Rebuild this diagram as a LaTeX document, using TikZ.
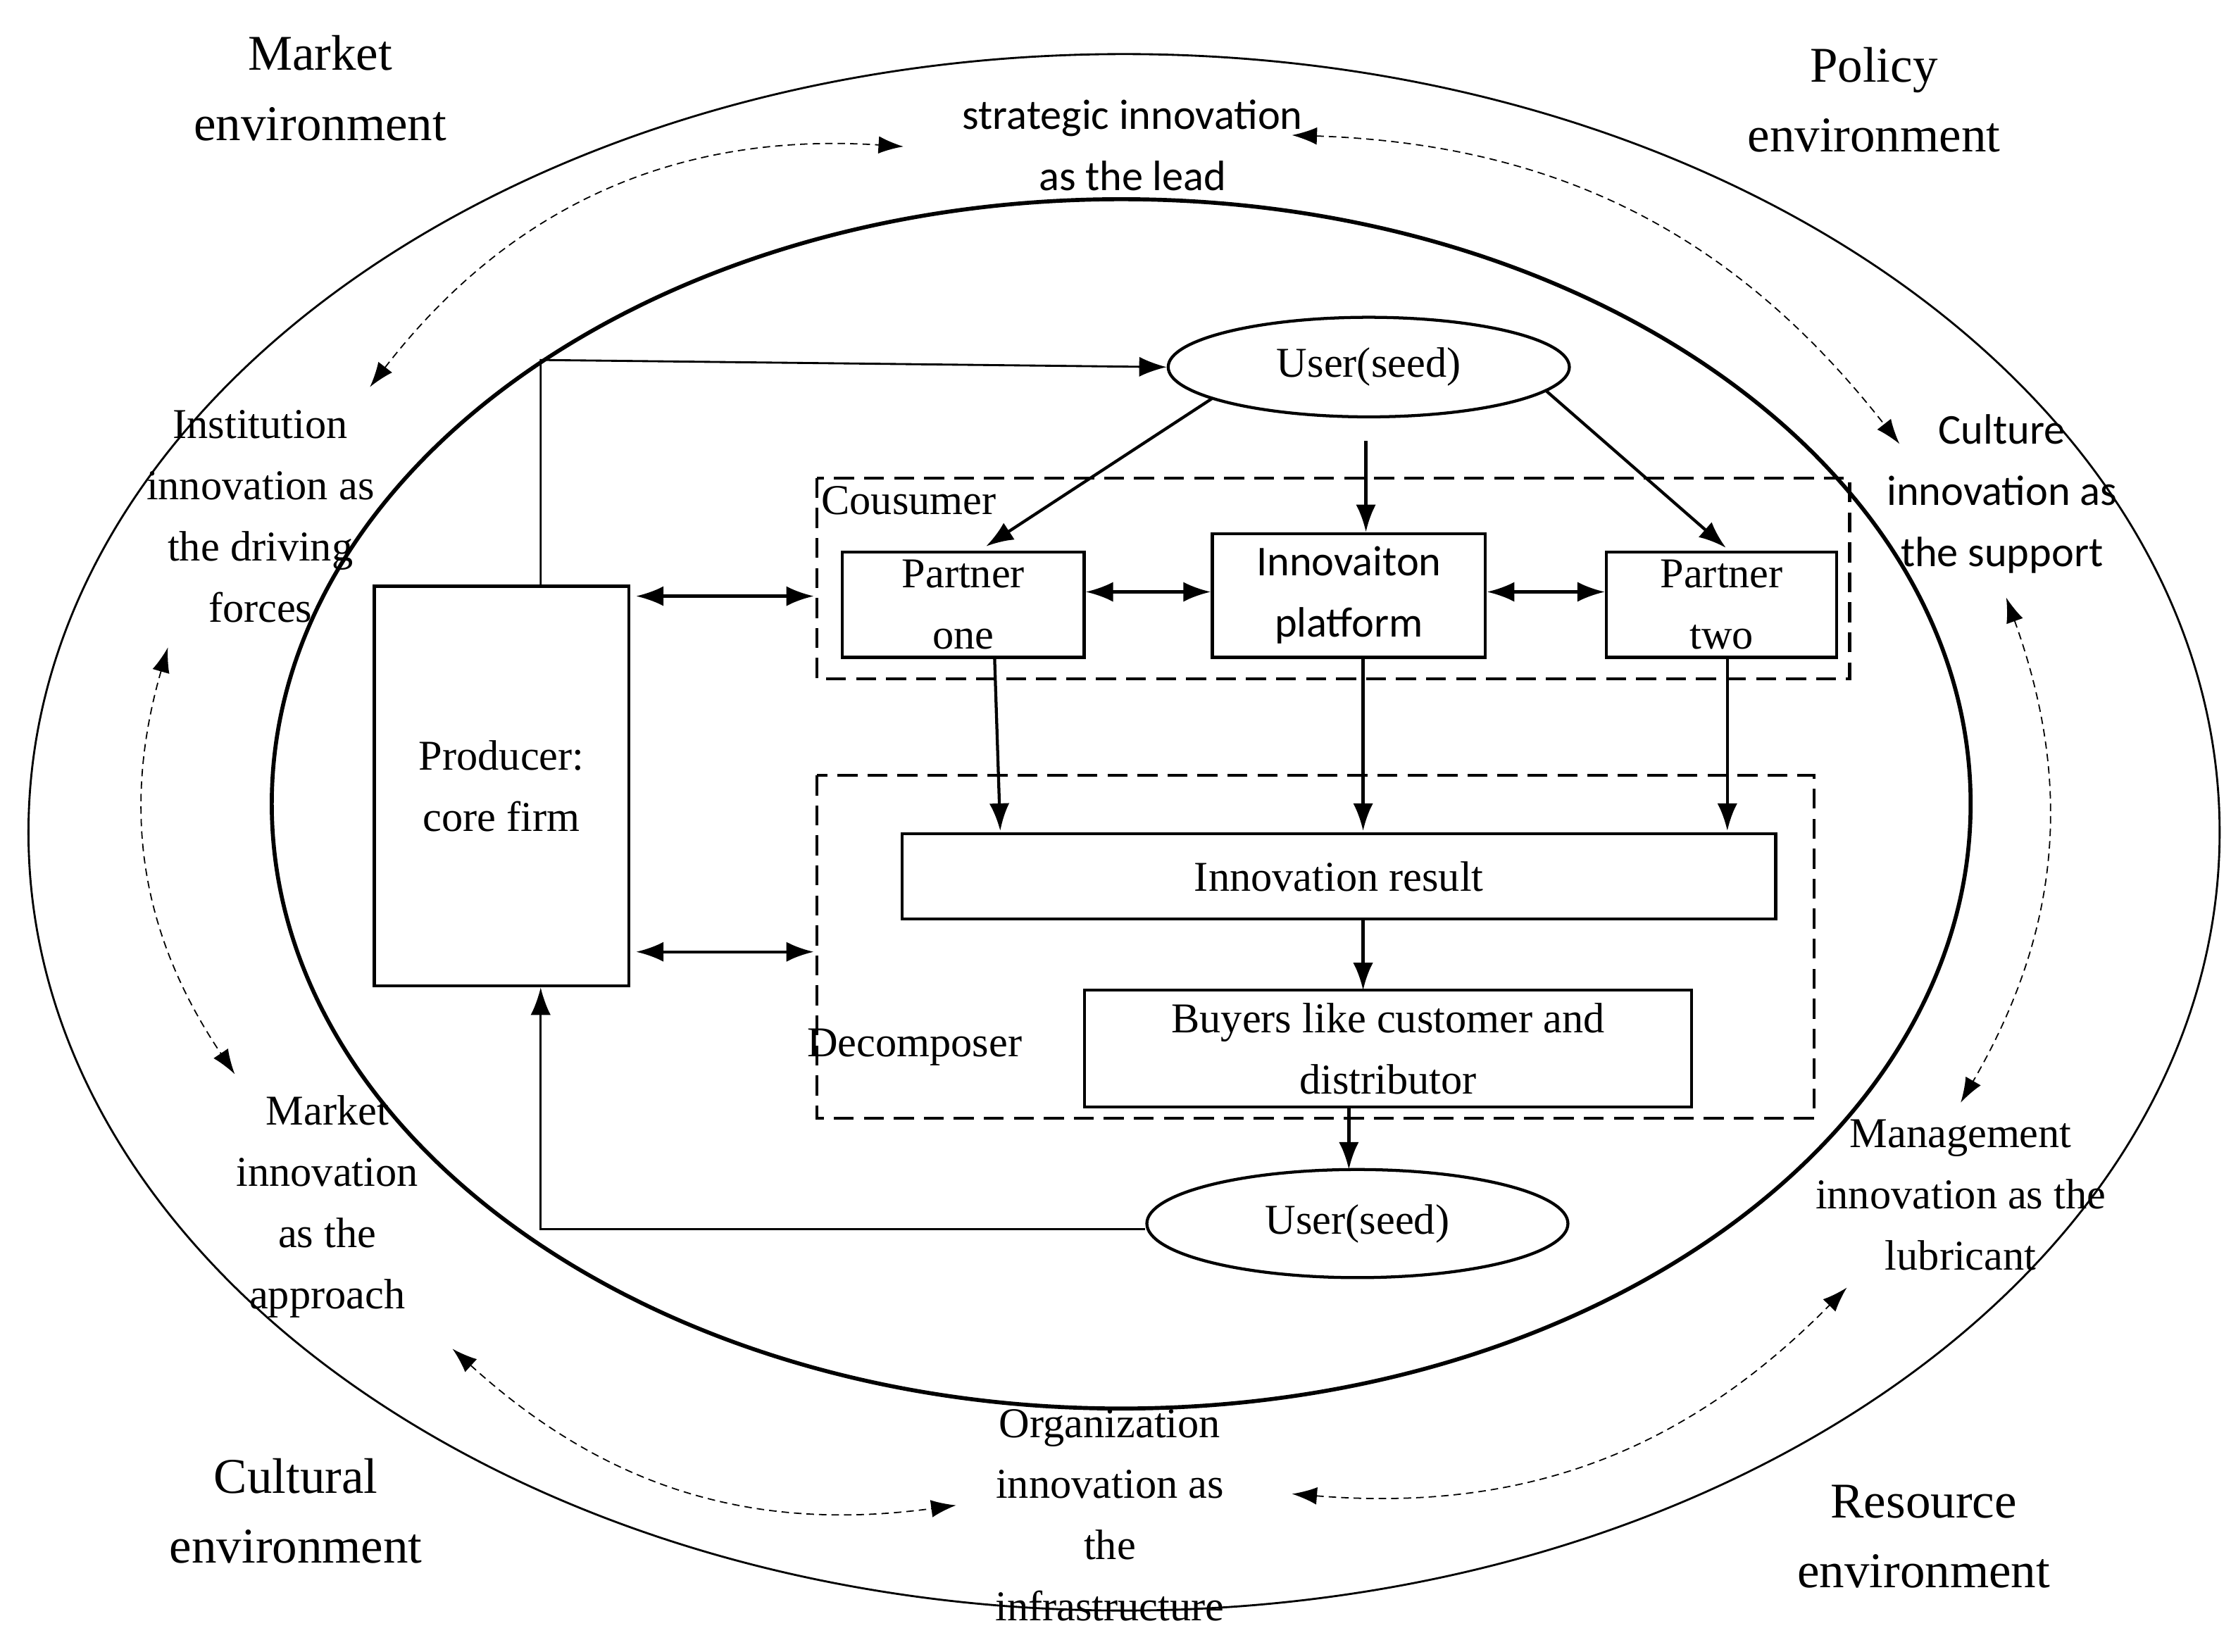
\documentclass[tikz,border=0pt]{standalone}
\usepackage{fontspec}
\setmainfont{Liberation Serif}
\newfontfamily\carfont{Carlito}
\usetikzlibrary{arrows.meta,shapes.geometric}
\begin{document}
\begin{tikzpicture}[x=0.02cm,y=-0.02cm,
 txt/.style={font=\fontsize{17}{24.5}\selectfont,align=center,inner sep=0},
 ctxt/.style={font=\carfont\fontsize{17}{24.5}\selectfont,align=center,inner sep=0},
 env/.style={font=\fontsize{20}{28}\selectfont,align=center,inner sep=0},
 box/.style={draw,line width=1.2pt,inner sep=0},
 arr/.style={-{Latex[length=11pt,width=8pt]},line width=1.2pt},
 darr/.style={{Latex[length=11pt,width=8pt]}-{Latex[length=11pt,width=8pt]},line width=1.2pt},
 dsh/.style={{Latex[length=10pt,width=7pt]}-{Latex[length=10pt,width=7pt]},densely dashed,line width=0.5pt},
 dbox/.style={draw,line width=1.2pt,dash pattern=on 8pt off 4pt}]
\useasboundingbox (0,0) rectangle (1568,1161);
\draw[line width=0.8pt] (790,585) ellipse [x radius=770,y radius=547];
\draw[line width=1.6pt] (788,565) ellipse [x radius=597,y radius=425];
% dashed boxes
\draw[dbox] (574,336) rectangle (1300,477);
\draw[dbox] (574,545) rectangle (1275,786);
\node[txt,anchor=west] (cl) at (577,352) {Cousumer};
\node[txt,anchor=west] (dl) at (567,736) {Decomposer};
% nodes
\node[box,txt,draw,minimum width=3.58cm,minimum height=5.62cm] (prod) at (352.5,552.5) {Producer:\\core firm};
\node[draw,ellipse,line width=1.2pt,minimum width=5.64cm,minimum height=1.4cm,txt] (u1) at (962,258) {User(seed)};
\node[draw,ellipse,line width=1.2pt,minimum width=5.92cm,minimum height=1.52cm,txt] (u2) at (954,860) {User(seed)};
\node[box,txt,draw,minimum width=3.4cm,minimum height=1.48cm] (p1) at (677,425) {Partner\\one};
\node[box,ctxt,draw,minimum width=3.84cm,minimum height=1.74cm] (ip) at (948,418.5) {Innovaiton\\platform};
\node[box,txt,draw,minimum width=3.24cm,minimum height=1.48cm] (p2) at (1210,425) {Partner\\two};
\node[box,txt,draw,minimum width=12.28cm,minimum height=1.2cm] (ir) at (941,616) {Innovation result};
\node[box,txt,draw,minimum width=8.54cm,minimum height=1.64cm] (by) at (975.5,737) {Buyers like customer and\\distributor};
% connectors
\coordinate (c1) at (380,253);
\draw[line width=0.8pt,-{Latex[length=11pt,width=8pt]}] (prod.north -| c1) -- (c1) -- (u1.west);
\coordinate (c2) at (380,864);
\draw[line width=0.8pt,-{Latex[length=11pt,width=8pt]}] (u2.west |- c2) -- (c2) -- (prod.south -| c2);
\draw[arr] (852,280) -- (693,384);
\coordinate (s1) at (960,310);
\draw[arr] (s1) -- (ip.north -| s1);
\draw[arr] (1087,275) -- (1213,385);
\draw[darr] (p1.east |- 0,416) -- (ip.west |- 0,416);
\draw[darr] (ip.east |- 0,416) -- (p2.west |- 0,416);
\draw[darr] (447,419) -- (572,419);
\draw[darr] (447,669) -- (572,669);
\draw[arr] (699,462) -- (703,584);
\draw[arr] (958,462) -- (958,584);
\draw[arr] (1214,462) -- (1214,584);
\draw[arr] (958,646) -- (958,696);
\draw[arr] (948,778) -- (948,822);
% outer texts
\node[env] (me) at (225,62) {Market\\environment};
\node[env] (pe) at (1317,70) {Policy\\environment};
\node[env] (ce) at (208,1062) {Cultural\\environment};
\node[env] (re) at (1352,1080) {Resource\\environment};
\node[ctxt] (si) at (796,102) {strategic innovation\\as the lead};
\node[txt] (ii) at (183,363) {Institution\\innovation as\\the driving\\forces};
\node[ctxt] (cu) at (1407,347) {Culture\\innovation as\\the support};
\node[txt] (mi) at (230,848) {Market\\innovation\\as the\\approach};
\node[txt] (mg) at (1378,840) {Management\\innovation as the\\lubricant};
\node[txt] (oi) at (780,1065) {Organization\\innovation as\\the\\infrastructure};
% dashed curved arrows
\draw[dsh] (260,272) to[bend left=28] (635,103);
\draw[dsh] (908,95) to[bend left=25] (1335,312);
\draw[dsh] (118,455) to[bend right=25] (165,755);
\draw[dsh] (1410,420) to[bend left=25] (1378,775);
\draw[dsh] (318,948) to[bend right=25] (672,1058);
\draw[dsh] (908,1050) to[bend right=25] (1298,905);
\end{tikzpicture}
\end{document}
